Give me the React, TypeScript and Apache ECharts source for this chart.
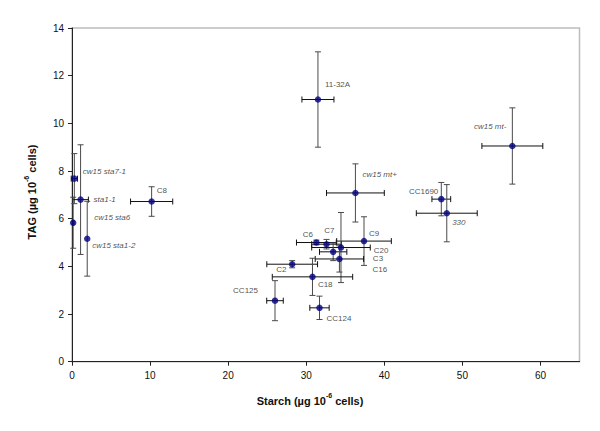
import React, { useEffect, useRef } from "react";
import * as echarts from "echarts";

const names = ["11-32A", "cw15 mt-", "CC1690", "330", "C8", "cw15 sta7-1", "sta1-1", "cw15 sta6", "cw15 sta1-2", "cw15 mt+", "C6", "C7", "C9", "C20", "C3", "C16", "C2", "C18", "CC124", "CC125"];
const starch = [31.5, 56.4, 47.3, 48.0, 10.2, 0.3, 1.1, 0.15, 1.95, 36.3, 31.3, 32.6, 37.4, 34.45, 33.45, 34.25, 28.2, 30.8, 31.7, 26.0];
const tag = [11.0, 9.05, 6.82, 6.23, 6.72, 7.68, 6.8, 5.83, 5.16, 7.08, 5.0, 4.93, 5.06, 4.79, 4.61, 4.31, 4.09, 3.56, 2.26, 2.56];
const starchErr = [2.05, 3.9, 1.2, 3.9, 2.7, 0.4, 1.0, 0.1, 0, 3.7, 2.55, 1.9, 3.5, 3.75, 1.75, 3.1, 3.25, 5.15, 1.24, 1.06];
const tagErr = [2.0, 1.6, 0.7, 1.2, 0.62, 1.05, 2.3, 1.07, 1.57, 1.22, 0.1, 0.2, 1.02, 1.47, 0.37, 0.55, 0.15, 0.78, 0.49, 0.84];
const italicNames = ["cw15 mt-", "330", "cw15 sta7-1", "sta1-1", "cw15 sta6", "cw15 sta1-2", "cw15 mt+"];

const xTicks = [0, 10, 20, 30, 40, 50, 60];
const yTicks = [0, 2, 4, 6, 8, 10, 12, 14];

// label placement relative to the point (pixels)
const labelPlacement: [number, number, string][] = [
  [7, -14.6, "left"],
  [-6, -19, "right"],
  [-3, -7.6, "right"],
  [5.4, 9.4, "left"],
  [5, -11, "left"],
  [8.5, -7, "left"],
  [13, 0, "left"],
  [21, -5.5, "left"],
  [5, 6.6, "left"],
  [7, -18, "left"],
  [-3.4, -8.4, "right"],
  [-2.3, -13.6, "left"],
  [5, -8, "left"],
  [32.7, 2.6, "left"],
  [39.7, 7, "left"],
  [33, 10.7, "left"],
  [-5.6, 5, "right"],
  [5.4, 8, "left"],
  [7, 10.3, "left"],
  [-17, -10, "right"],
];

const FONT = "'Liberation Sans', Arial, sans-serif";
const SYMBOL = 6.5;

export default function App() {
  const ref = useRef<HTMLDivElement>(null);
  useEffect(() => {
    if (!ref.current) return;
    const chart = echarts.init(ref.current, undefined, { renderer: "svg" });
    const errData = names.map((n, i) => [starch[i], tag[i], starchErr[i], tagErr[i]]);
    const pointData = names.map((n, i) => ({
      name: n,
      value: [starch[i], tag[i]],
      label: {
        show: true,
        formatter: n,
        position: [labelPlacement[i][0] + SYMBOL / 2, labelPlacement[i][1] + SYMBOL / 2],
        align: labelPlacement[i][2],
        verticalAlign: "middle",
        fontStyle: italicNames.includes(n) ? "italic" : "normal",
        fontSize: 8,
        color: "#1a1a1a",
        fontFamily: FONT,
      },
    }));
    chart.setOption({
      animation: false,
      backgroundColor: "#fff",
      textStyle: { fontFamily: FONT },
      grid: {
        left: 72,
        top: 28,
        right: 20.5,
        bottom: 69.3,
        show: true,
        borderColor: "#bdbdbd",
        borderWidth: 1.5,
        backgroundColor: "transparent",
      },
      xAxis: {
        type: "value",
        min: 0,
        max: 65,
        interval: 10,
        splitLine: { show: false },
        axisLine: { show: true, onZero: false, lineStyle: { color: "#222", width: 1 } },
        axisTick: { show: true, length: 4, lineStyle: { color: "#222" }, customValues: xTicks },
        axisLabel: { fontSize: 10, color: "#111", margin: 9, fontFamily: FONT, customValues: xTicks },
      },
      yAxis: {
        type: "value",
        min: 0,
        max: 14,
        interval: 2,
        splitLine: { show: false },
        axisLine: { show: true, onZero: false, lineStyle: { color: "#222", width: 1 } },
        axisTick: { show: true, length: 4, lineStyle: { color: "#222" }, customValues: yTicks },
        axisLabel: { fontSize: 10, color: "#111", margin: 8, fontFamily: FONT, customValues: yTicks },
      },
      graphic: [
        {
          type: "text",
          x: 310,
          y: 399,
          style: {
            text: "{b|Starch (µg 10}{s|-6}{b| cells)}",
            align: "center",
            verticalAlign: "middle",
            rich: {
              b: { fontSize: 11, fontWeight: "bold", fontFamily: FONT, fill: "#111", lineHeight: 14, verticalAlign: "bottom" },
              s: { fontSize: 7, fontWeight: "bold", fontFamily: FONT, fill: "#111", lineHeight: 14, verticalAlign: "top" },
            },
          },
        },
        {
          type: "text",
          x: 30,
          y: 192,
          rotation: Math.PI / 2,
          style: {
            text: "{b|TAG (µg 10}{s|-6}{b| cells)}",
            align: "center",
            verticalAlign: "middle",
            rich: {
              b: { fontSize: 11, fontWeight: "bold", fontFamily: FONT, fill: "#111", lineHeight: 14, verticalAlign: "bottom" },
              s: { fontSize: 7, fontWeight: "bold", fontFamily: FONT, fill: "#111", lineHeight: 14, verticalAlign: "top" },
            },
          },
        },
      ],
      series: [
        {
          type: "custom",
          data: errData,
          clip: false,
          z: 2,
          renderItem: (params: any, api: any) => {
            const x = api.value(0);
            const y = api.value(1);
            const ex = api.value(2);
            const ey = api.value(3);
            const cap = 3;
            const children: any[] = [];
            if (ex > 0) {
              const l = api.coord([x - ex, y]);
              const r = api.coord([x + ex, y]);
              const st = { stroke: "#111", lineWidth: 1 };
              children.push({ type: "line", shape: { x1: l[0], y1: l[1], x2: r[0], y2: r[1] }, style: st });
              children.push({ type: "line", shape: { x1: l[0], y1: l[1] - cap, x2: l[0], y2: l[1] + cap }, style: st });
              children.push({ type: "line", shape: { x1: r[0], y1: r[1] - cap, x2: r[0], y2: r[1] + cap }, style: st });
            }
            if (ey > 0) {
              const t = api.coord([x, y + ey]);
              const b = api.coord([x, y - ey]);
              const sv = { stroke: "#4a4a4a", lineWidth: 1 };
              children.push({ type: "line", shape: { x1: t[0], y1: t[1], x2: b[0], y2: b[1] }, style: sv });
              children.push({ type: "line", shape: { x1: t[0] - cap, y1: t[1], x2: t[0] + cap, y2: t[1] }, style: sv });
              children.push({ type: "line", shape: { x1: b[0] - cap, y1: b[1], x2: b[0] + cap, y2: b[1] }, style: sv });
            }
            return { type: "group", children };
          },
        },
        {
          type: "scatter",
          data: pointData,
          symbol: "circle",
          symbolSize: SYMBOL,
          z: 3,
          itemStyle: { color: "#000080" },
        },
      ],
    });
    return () => chart.dispose();
  }, []);
  return <div ref={ref} style={{ position: "fixed", left: 0, top: 0, width: 600, height: 431, background: "#fff" }} />;
}
